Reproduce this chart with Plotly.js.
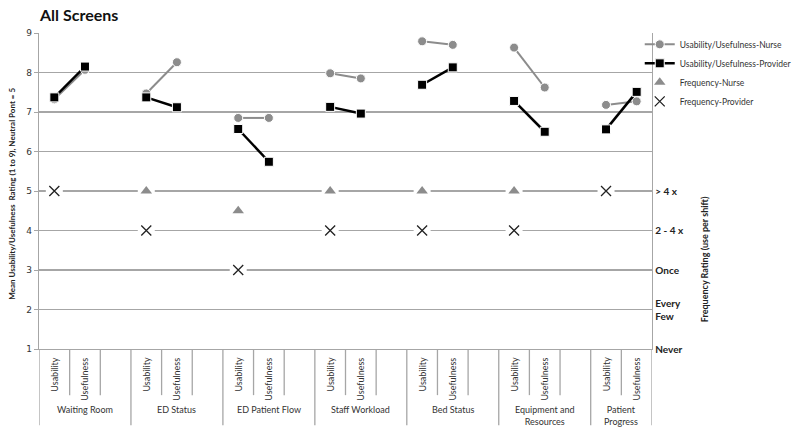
<!DOCTYPE html>
<html><head><meta charset="utf-8">
<script src="https://cdn.plot.ly/plotly-3.0.1.min.js"></script>
<style>html,body{margin:0;padding:0;background:#fff}</style>
</head><body><div id="chart" style="width:800px;height:434px"></div>
<script>
// ---- data ----
const groups = ["Waiting Room", "ED Status", "ED Patient Flow", "Staff Workload", "Bed Status", "Equipment and<br>Resources", "Patient<br>Progress"];
const measures = ["Usability", "Usefulness"];
const nurseUsability     = [7.32, 7.47, 6.85, 7.98, 8.79, 8.63, 7.18];
const nurseUsefulness    = [8.07, 8.26, 6.85, 7.85, 8.70, 7.62, 7.27];
const providerUsability  = [7.37, 7.37, 6.57, 7.13, 7.69, 7.28, 6.56];
const providerUsefulness = [8.15, 7.12, 5.74, 6.96, 8.13, 6.50, 7.51];
const freqNurse    = [null, 5, 4.5, 5, 5, 5, null];
const freqProvider = [5, 4, 3, 4, 4, 4, 5];
const freqTickVals = [1, 2, 3, 4, 5];
const freqTickText = ["Never", "Every<br>Few", "Once", "2 - 4 x", "> 4 x"];
const ratingTicks  = [1, 2, 3, 4, 5, 6, 7, 8, 9];

// ---- build category slots ----
const cats = [], catGroup = [];
groups.forEach((g, gi) => {
  measures.forEach(m => { cats.push(g + "|" + m); catGroup.push(gi); });
  if (gi < groups.length - 1) { cats.push(g + "|gap"); catGroup.push(gi); }
});
function pairSeries(a, b) {
  const y = [];
  groups.forEach((g, gi) => {
    y.push(a[gi], b[gi]);
    if (gi < groups.length - 1) y.push(null);
  });
  return y;
}
const usabilityCats = groups.map(g => g + "|Usability");

const FONT = "Lato, Carlito, 'Liberation Sans', sans-serif";
const GRID = "#a6a6a6";
const NURSE = "#8c8c8c";

const traces = [
  {x: usabilityCats, y: freqProvider, yaxis: "y2", type: "scatter", mode: "markers", showlegend: false, hoverinfo: "skip",
   marker: {symbol: "square", size: 17, color: "#ffffff"}},
  {x: usabilityCats, y: freqNurse, yaxis: "y2", type: "scatter", mode: "markers", showlegend: false, hoverinfo: "skip",
   marker: {symbol: "square", size: 17, color: "#ffffff"}},
  {x: cats, y: pairSeries(nurseUsability, nurseUsefulness), type: "scatter", mode: "lines+markers",
   name: "Usability/Usefulness-Nurse", connectgaps: false, legendgroup: "a",
   line: {color: NURSE, width: 2},
   marker: {symbol: "circle", size: 9, color: NURSE, line: {color: "#ffffff", width: 1}}},
  {x: cats, y: pairSeries(providerUsability, providerUsefulness), type: "scatter", mode: "lines+markers",
   name: "Usability/Usefulness-Provider", connectgaps: false, legendgroup: "b",
   line: {color: "#000000", width: 2.5},
   marker: {symbol: "square", size: 9, color: "#000000", line: {color: "#ffffff", width: 1}}},
  {x: usabilityCats, y: freqNurse, yaxis: "y2", type: "scatter", mode: "markers", name: "Frequency-Nurse",
   legendgroup: "c", marker: {symbol: "triangle-up", size: 10, color: NURSE}},
  {x: usabilityCats, y: freqProvider, yaxis: "y2", type: "scatter", mode: "markers", name: "Frequency-Provider",
   legendgroup: "d", marker: {symbol: "x-thin-open", size: 10, color: "#222", line: {color: "#222", width: 1.3}}}
];

// ---- category axis decorations ----
const shapes = [], annotations = [];
const nSlots = cats.length;
for (let b = 0; b <= nSlots; b++) {
  const isGroupEdge = (b === nSlots) || (cats[b] && cats[b].endsWith("|Usability"));
  shapes.push({type: "line", xref: "x", yref: "paper", x0: b - 0.5, x1: b - 0.5, y0: 0,
               y1: isGroupEdge ? -0.241 : -0.146, line: {color: GRID, width: 1.3}});
}
cats.forEach((c, i) => {
  const m = c.split("|")[1];
  if (m === "gap") return;
  annotations.push({xref: "x", yref: "paper", x: i, y: -0.02, yanchor: "top", xanchor: "center",
    text: m, textangle: -90, showarrow: false, font: {family: FONT, size: 9, color: "#333"}});
});
groups.forEach((g, gi) => {
  const idx = cats.map((c, i) => i).filter(i => catGroup[i] === gi);
  const center = (idx[0] + idx[idx.length - 1]) / 2;
  annotations.push({xref: "x", yref: "paper", x: center, y: -0.168, yanchor: "top", xanchor: "center",
    text: g, showarrow: false, font: {family: FONT, size: 9, color: "#333"}});
});
annotations.push({xref: "paper", yref: "paper", x: -0.043, y: 0.49, xanchor: "center", yanchor: "middle",
  textangle: -90, showarrow: false, text: "Mean Usability/Usefulness  Rating (1 to 9), Neutral Pont = 5",
  font: {family: FONT, size: 8, color: "#222", weight: "bold"}});
annotations.push({xref: "paper", yref: "paper", x: 1.087, y: 0.285, xanchor: "center", yanchor: "middle",
  textangle: -90, showarrow: false, text: "Frequency Rating (use per shift)",
  font: {family: FONT, size: 9, color: "#222", weight: "bold"}});

const layout = {
  width: 800, height: 434,
  margin: {l: 39, r: 148, t: 33, b: 85, pad: 0, autoexpand: false},
  paper_bgcolor: "#fff", plot_bgcolor: "#fff",
  font: {family: FONT, color: "#333"},
  title: {text: "All Screens", x: 40 / 800, xanchor: "left", y: 1 - 15 / 434, yanchor: "middle",
          font: {family: FONT, size: 16, weight: "bold", color: "#111"}},
  xaxis: {type: "category", categoryarray: cats, categoryorder: "array", range: [-0.5, nSlots - 0.5],
          showticklabels: false, showgrid: false, zeroline: false, showline: true, linecolor: GRID, linewidth: 1.3,
          ticks: "", fixedrange: true},
  yaxis: {range: [1, 9], tickvals: ratingTicks, showgrid: true, gridcolor: GRID, gridwidth: 1.5,
          zeroline: false, showline: true, linecolor: GRID, linewidth: 1.3, ticks: "outside", ticklen: 4,
          tickcolor: GRID, tickfont: {family: "DejaVu Sans", size: 9, color: "#333"}},
  yaxis2: {overlaying: "y", side: "right", range: [1, 9], tickvals: freqTickVals, ticktext: freqTickText,
           showgrid: false, zeroline: false, showline: true, linecolor: GRID, linewidth: 1.3, ticks: "",
           tickfont: {family: FONT, size: 10, color: "#222", weight: "bold"}},
  legend: {x: 0.98, y: 1.01, xanchor: "left", yanchor: "top", itemwidth: 30, tracegroupgap: 0,
           traceorder: "grouped",
           font: {family: FONT, size: 8.5, color: "#333"}, bgcolor: "rgba(0,0,0,0)"},
  showlegend: true,
  shapes: shapes,
  annotations: annotations
};
Plotly.newPlot("chart", traces, layout, {displayModeBar: false, staticPlot: true});
</script>
</body></html>
